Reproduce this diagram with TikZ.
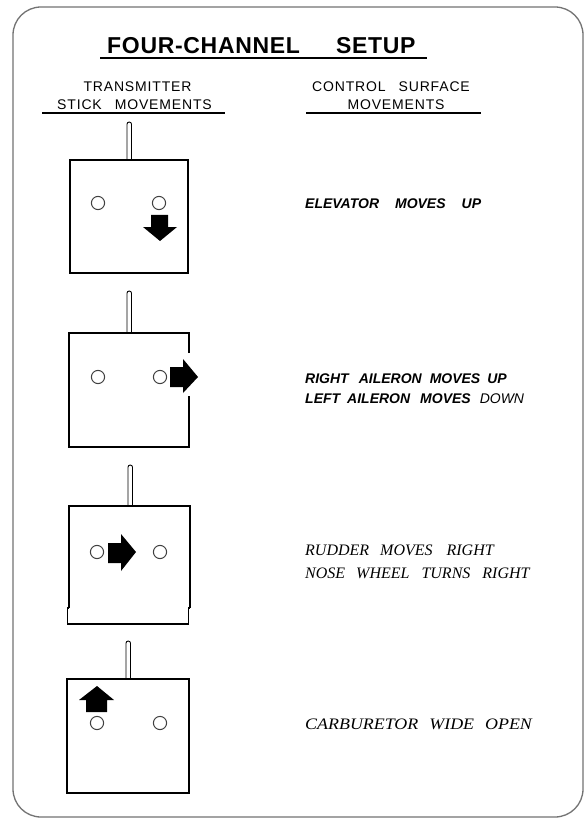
\documentclass[tikz,border=0pt]{standalone}
\usepackage{fontspec}
\setmainfont{Liberation Sans}
\newfontfamily\titlefont[LetterSpace=3]{Liberation Sans}
\newfontfamily\hdrfont[LetterSpace=6]{Liberation Sans}
\newfontfamily\serfont{Liberation Serif}
\newfontfamily\serwidefont[FakeStretch=1.12]{Liberation Serif}
\begin{document}
\begin{tikzpicture}[x=1pt,y=-1pt,
  frame/.style={draw=black!55, line width=1.3pt, rounded corners=28pt},
  txbox/.style={draw=black, line width=1.3pt},
  knob/.style={draw=black!75, line width=1pt},
  arr/.style={fill=black},
  ant/.style={draw=black, line width=0.9pt, rounded corners=2.2pt},
  rule/.style={draw=black, line width=1.3pt},
  titlelbl/.style={anchor=base west, inner sep=0pt, font=\fontsize{23}{27}\titlefont\bfseries},
  hdr/.style={anchor=base, inner sep=0pt, font=\fontsize{14}{16}\hdrfont},
  lbl/.style={anchor=base west, inner sep=0pt, font=\fontsize{14}{17}\selectfont\bfseries\itshape},
  slbl/.style={anchor=base west, inner sep=0pt, font=\fontsize{16}{19}\serfont\itshape},
  swlbl/.style={anchor=base west, inner sep=0pt, font=\fontsize{16}{19}\serwidefont\itshape},
]
\useasboundingbox (0,0) rectangle (584,818);
\fill[white] (0,0) rectangle (584,818);
% outer frame
\draw[frame] (13,7) rectangle (583,817);

% title and headings
\node[titlelbl] (title) at (107,54) {FOUR-CHANNEL\hspace{36pt}SETUP};
\draw[draw=black, line width=2.6pt] (100,58) -- (427,58);
\node[hdr] (h1a) at (137.5,92) {TRANSMITTER};
\node[hdr] (h1b) at (134.5,110) {STICK\hspace{13pt}MOVEMENTS};
\node[hdr] (h2a) at (391,92) {CONTROL\hspace{13pt}SURFACE};
\node[hdr] (h2b) at (396,110) {MOVEMENTS};
\draw[rule] (42,113) -- (225,113);
\draw[rule] (306,113) -- (481,113);

% ---- box 1 : elevator
\draw[ant] (127,160) -- (127,122) -- (131.5,122) -- (131.5,160);
\draw[txbox] (70,160) rectangle (188,273);
\draw[knob] (98,203) circle[radius=6.6pt];
\draw[knob] (159,203) circle[radius=6.6pt];
\fill[arr] (151,215) -- (168,215) -- (168,227) -- (177,227) -- (160,241) -- (143,227) -- (151,227) -- cycle;
\node[lbl] (t1) at (305,209) {ELEVATOR\hspace{16pt}MOVES\hspace{16pt}UP};

% ---- box 2 : aileron
\draw[ant] (127,333) -- (127,291) -- (131.5,291) -- (131.5,333);
\draw[txbox] (189,353) -- (189,333) -- (69,333) -- (69,447) -- (189,447) -- (189,396);
\draw[knob] (98,377) circle[radius=6.6pt];
\draw[knob] (160,377) circle[radius=6.6pt];
\fill[arr] (170,367) -- (183,367) -- (183,359) -- (198,377) -- (183,393) -- (183,387) -- (170,387) -- cycle;
\node[lbl] (t2a) at (305,383) {RIGHT\hspace{10pt}AILERON\hspace{8pt}MOVES\hspace{7pt}UP};
\node[lbl] (t2b) at (305,403) {LEFT\hspace{7pt}AILERON\hspace{10pt}MOVES\hspace{9pt}{\mdseries DOWN}};

% ---- box 3 : rudder
\draw[ant] (128,506) -- (128,465) -- (132.5,465) -- (132.5,506);
\draw[txbox] (69,608) -- (69,506) -- (190,506) -- (190,608);
\draw[txbox] (69,608) -- (67.5,608) -- (67.5,624) -- (188.8,624) -- (188.8,608) -- (190,608);
\draw[knob] (97,552) circle[radius=6.6pt];
\draw[knob] (160,552) circle[radius=6.6pt];
\fill[arr] (108,543) -- (121,543) -- (121,534) -- (136,552) -- (121,571) -- (121,563) -- (108,563) -- cycle;
\node[slbl] (t3a) at (305,555) {RUDDER\hspace{11pt}MOVES\hspace{14pt}RIGHT};
\node[slbl] (t3b) at (305,578) {NOSE\hspace{11pt}WHEEL\hspace{12pt}TURNS\hspace{12pt}RIGHT};

% ---- box 4 : throttle
\draw[ant] (126,679) -- (126,641) -- (130.5,641) -- (130.5,679);
\draw[txbox] (67,679) rectangle (189,793);
\draw[knob] (97,723) circle[radius=6.6pt];
\draw[knob] (160,723) circle[radius=6.6pt];
\fill[arr] (86,712) -- (86,700) -- (79,700) -- (97,686) -- (114,700) -- (107,700) -- (107,712) -- cycle;
\node[swlbl] (t4) at (305,729) {CARBURETOR\hspace{11pt}WIDE\hspace{11pt}OPEN};
\end{tikzpicture}
\end{document}
